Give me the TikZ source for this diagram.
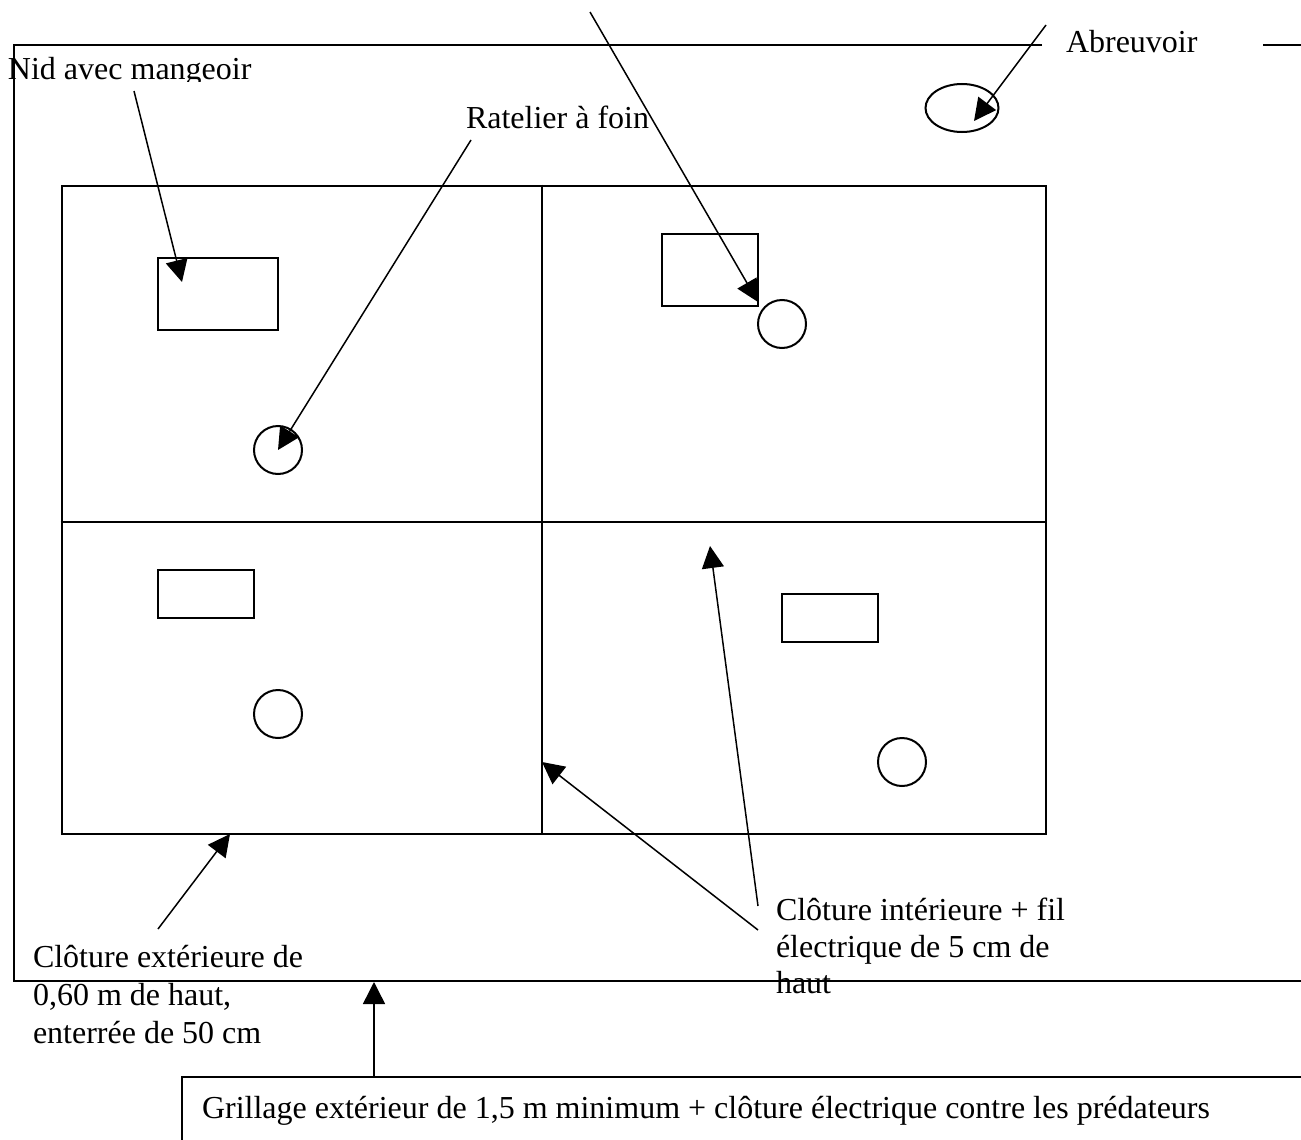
\documentclass[tikz,border=0pt]{standalone}
\usepackage{fontspec}
\setmainfont{Liberation Serif}
\usetikzlibrary{arrows.meta}
\tikzset{
  ln/.style={draw=black,line width=2pt},
  arr/.style={draw=black,line width=1.5pt,-{Triangle[length=22pt,width=22pt]},shorten >=0pt},
  lbl/.style={inner sep=0pt,outer sep=0pt,anchor=base west,font=\fontsize{32pt}{38pt}\selectfont,align=left},
}
\begin{document}
\begin{tikzpicture}[x=1pt,y=-1pt]
\useasboundingbox (0,0) rectangle (1301,1140);
% outer fence
\draw[ln] (1042,45) -- (13.7,45) -- (13.7,981) -- (1301,981);
\draw[ln] (1263,45) -- (1301,45);
% enclosure
\node[ln,minimum width=984,minimum height=648,anchor=north west,inner sep=0pt] (enc) at (60.7,184.7) {};
\coordinate (midT) at (542,184.7);
\coordinate (midB) at (542,832.7);
\coordinate (midL) at (60.7,522);
\coordinate (midR) at (1044.7,522);
\draw[ln] (midT) -- (midB);
\draw[ln] (midL) -- (midR);
% nests
\node[ln,minimum width=120,minimum height=72,anchor=north west,inner sep=0pt] (n1) at (156.7,256.7) {};
\node[ln,minimum width=96,minimum height=72,anchor=north west,inner sep=0pt] (n2) at (660.7,232.7) {};
\node[ln,minimum width=96,minimum height=48,anchor=north west,inner sep=0pt] (n3) at (156.7,568.7) {};
\node[ln,minimum width=96,minimum height=48,anchor=north west,inner sep=0pt] (n4) at (780.7,592.7) {};
% racks
\node[ln,circle,minimum size=48,inner sep=0pt] (r1) at (278,450) {};
\node[ln,circle,minimum size=48,inner sep=0pt] (r2) at (782,324) {};
\node[ln,circle,minimum size=48,inner sep=0pt] (r3) at (278,714) {};
\node[ln,circle,minimum size=48,inner sep=0pt] (r4) at (902,762) {};
% trough
\draw[ln] (962,108) ellipse [x radius=36.5,y radius=24];
% labels
\begin{scope}
\clip (0,47) rectangle (400,81);
\node[lbl] (nid) at (8,80) {Nid avec mangeoir};
\end{scope}
\node[lbl] (rat) at (466,128) {Ratelier à foin};
\node[lbl] (abr) at (1066,53) {Abreuvoir};
\node[lbl] (cext) at (33,967) {Clôture extérieure de};
\node[lbl] (cext2) at (33,1005) {0,60 m de haut,};
\node[lbl] (cext3) at (33,1043) {enterrée de 50 cm};
\node[lbl] (cint) at (776,920) {Clôture intérieure + fil};
\node[lbl] (cint2) at (776,957) {électrique de 5 cm de};
\node[lbl] (cint3) at (776,993) {haut};
\node[lbl] (gri) at (202,1118) {Grillage extérieur de 1,5 m minimum + clôture électrique contre les prédateurs};
% text box
\coordinate (gTL) at (182,1077);
\coordinate (gBL) at (182,1140);
\coordinate (gTR) at (1301,1077);
\draw[ln] (gBL) -- (gTL) -- (gTR);
% arrow free ends
\coordinate (a1s) at (134,91);  \coordinate (a1e) at (182,282);
\coordinate (a2s) at (471,140); \coordinate (a2e) at (278,450);
\coordinate (a3s) at (590,12);  \coordinate (a3e) at (758,302);
\coordinate (a4s) at (1046,25); \coordinate (a4e) at (974,121);
\coordinate (a5s) at (158,929); \coordinate (a5e) at (230,834);
\coordinate (a6s) at (758,930); \coordinate (a6e) at (542,762);
\coordinate (a7s) at (758,906); \coordinate (a7e) at (710,546);
\coordinate (a8s) at (374,1077);\coordinate (a8e) at (374,982);
\draw[arr] (a1s) -- (a1e);
\draw[arr] (a2s) -- (a2e);
\draw[arr] (a3s) -- (a3e);
\draw[arr] (a4s) -- (a4e);
\draw[arr] (a5s) -- (a5e);
\draw[arr] (a6s) -- (a6e);
\draw[arr] (a7s) -- (a7e);
\draw[arr] (a8s) -- (a8e);
\end{tikzpicture}
\end{document}
